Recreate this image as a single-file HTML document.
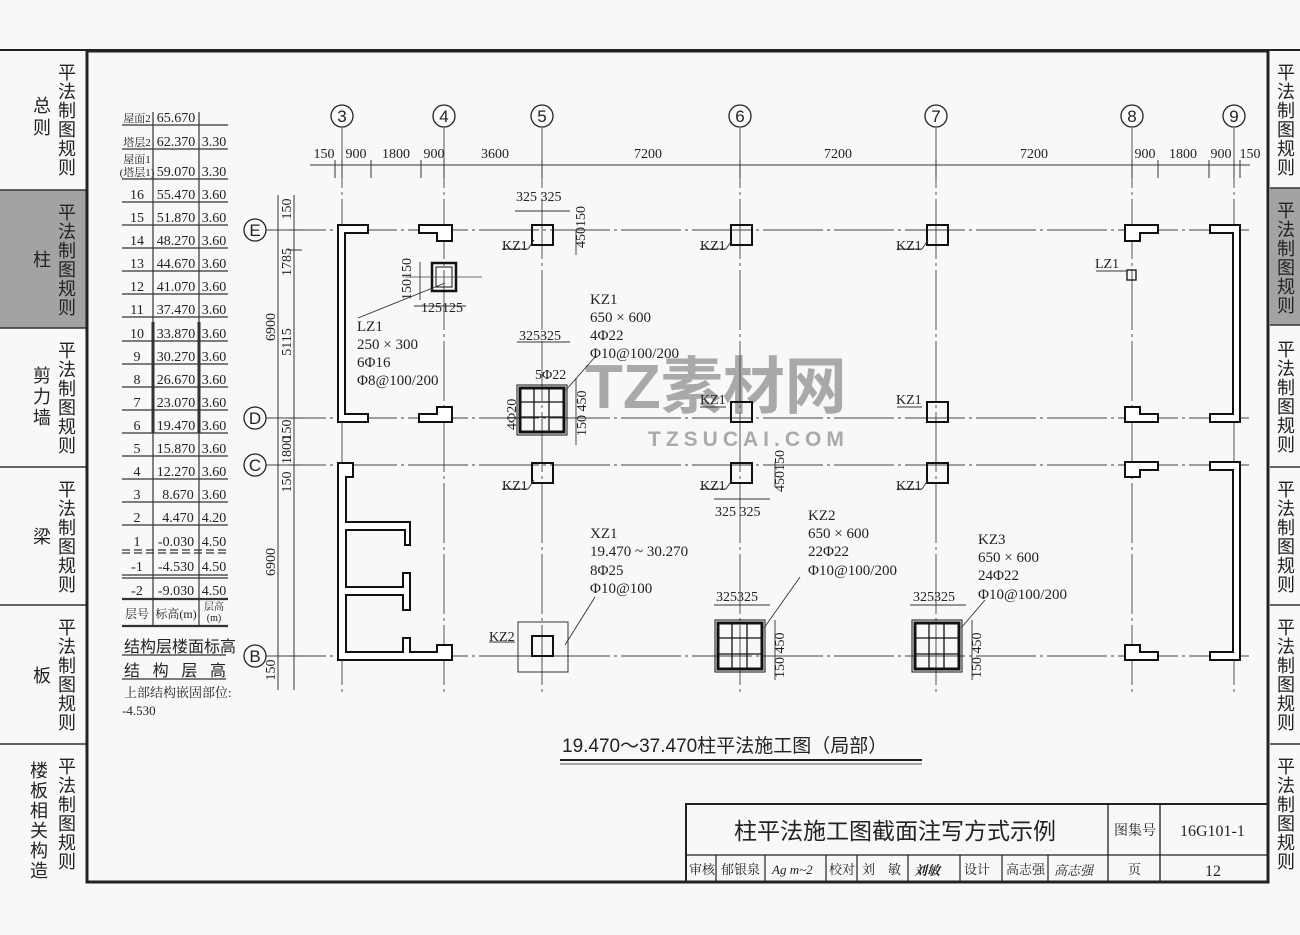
<!DOCTYPE html>
<html><head><meta charset="utf-8"><style>
html,body{margin:0;padding:0;background:#f8f8f6;}
svg{display:block}
text{font-family:"Liberation Serif","Noto Serif CJK SC",serif;fill:#222}
.s{font-family:"Liberation Sans","Noto Sans CJK SC",sans-serif}
.sb text{font-family:"Liberation Sans","Noto Sans CJK SC",sans-serif;font-size:18px}
</style></head><body>
<svg width="1300" height="935" viewBox="0 0 1300 935" xmlns="http://www.w3.org/2000/svg">
<rect width="1300" height="935" fill="#f8f8f6"/>
<!-- sidebars -->
<rect x="0" y="190" width="86" height="138" fill="#a3a3a3"/>
<rect x="1270" y="188" width="30" height="137" fill="#a3a3a3"/>
<line x1="0" y1="50" x2="1300" y2="50" stroke="#222" stroke-width="2"/>
<g stroke="#333" stroke-width="1.5">
<line x1="0" y1="190" x2="86" y2="190"/><line x1="0" y1="328" x2="86" y2="328"/><line x1="0" y1="467" x2="86" y2="467"/>
<line x1="0" y1="605" x2="86" y2="605"/><line x1="0" y1="744" x2="86" y2="744"/>
<line x1="1270" y1="188" x2="1300" y2="188"/><line x1="1270" y1="325" x2="1300" y2="325"/><line x1="1270" y1="467" x2="1300" y2="467"/>
<line x1="1270" y1="605" x2="1300" y2="605"/><line x1="1270" y1="744" x2="1300" y2="744"/>
</g>
<rect x="87" y="51" width="1181" height="831" fill="none" stroke="#222" stroke-width="3"/>
<g class="sb">
<text x="58" y="79">平</text><text x="58" y="98">法</text><text x="58" y="117">制</text><text x="58" y="136">图</text><text x="58" y="155">规</text><text x="58" y="174">则</text>
<text x="33" y="112">总</text><text x="33" y="134">则</text>
<text x="58" y="219">平</text><text x="58" y="238">法</text><text x="58" y="257">制</text><text x="58" y="276">图</text><text x="58" y="295">规</text><text x="58" y="314">则</text>
<text x="33" y="266">柱</text>
<text x="58" y="357">平</text><text x="58" y="376">法</text><text x="58" y="395">制</text><text x="58" y="414">图</text><text x="58" y="433">规</text><text x="58" y="452">则</text>
<text x="33" y="382">剪</text><text x="33" y="403">力</text><text x="33" y="424">墙</text>
<text x="58" y="496">平</text><text x="58" y="515">法</text><text x="58" y="534">制</text><text x="58" y="553">图</text><text x="58" y="572">规</text><text x="58" y="591">则</text>
<text x="33" y="543">梁</text>
<text x="58" y="634">平</text><text x="58" y="653">法</text><text x="58" y="672">制</text><text x="58" y="691">图</text><text x="58" y="710">规</text><text x="58" y="729">则</text>
<text x="33" y="682">板</text>
<text x="58" y="773">平</text><text x="58" y="792">法</text><text x="58" y="811">制</text><text x="58" y="830">图</text><text x="58" y="849">规</text><text x="58" y="868">则</text>
<text x="30" y="777">楼</text><text x="30" y="797">板</text><text x="30" y="817">相</text><text x="30" y="837">关</text><text x="30" y="857">构</text><text x="30" y="877">造</text>
<text x="1277" y="79">平</text><text x="1277" y="98">法</text><text x="1277" y="117">制</text><text x="1277" y="136">图</text><text x="1277" y="155">规</text><text x="1277" y="174">则</text>
<text x="1277" y="217">平</text><text x="1277" y="236">法</text><text x="1277" y="255">制</text><text x="1277" y="274">图</text><text x="1277" y="293">规</text><text x="1277" y="312">则</text>
<text x="1277" y="356">平</text><text x="1277" y="375">法</text><text x="1277" y="394">制</text><text x="1277" y="413">图</text><text x="1277" y="432">规</text><text x="1277" y="451">则</text>
<text x="1277" y="496">平</text><text x="1277" y="515">法</text><text x="1277" y="534">制</text><text x="1277" y="553">图</text><text x="1277" y="572">规</text><text x="1277" y="591">则</text>
<text x="1277" y="634">平</text><text x="1277" y="653">法</text><text x="1277" y="672">制</text><text x="1277" y="691">图</text><text x="1277" y="710">规</text><text x="1277" y="729">则</text>
<text x="1277" y="773">平</text><text x="1277" y="792">法</text><text x="1277" y="811">制</text><text x="1277" y="830">图</text><text x="1277" y="849">规</text><text x="1277" y="868">则</text>
</g>

<!-- watermark -->
<text x="585" y="408" class="s" font-size="62" font-weight="bold" style="fill:#a9a9a9">TZ素材网</text>
<text x="648" y="446" class="s" font-size="21" font-weight="bold" letter-spacing="5" style="fill:#aaa">TZSUCAI.COM</text>

<!-- table -->
<g stroke="#333" stroke-width="1.2">
<line x1="153" y1="112" x2="153" y2="626"/><line x1="199" y1="112" x2="199" y2="626"/>
<line x1="153" y1="322" x2="153" y2="433" stroke-width="3"/><line x1="199" y1="322" x2="199" y2="433" stroke-width="3"/>
<line x1="122" y1="125" x2="228" y2="125"/><line x1="122" y1="149" x2="228" y2="149"/>
<line x1="122" y1="179" x2="228" y2="179"/><line x1="122" y1="202" x2="228" y2="202"/>
<line x1="122" y1="225" x2="228" y2="225"/><line x1="122" y1="248" x2="228" y2="248"/>
<line x1="122" y1="271" x2="228" y2="271"/><line x1="122" y1="294" x2="228" y2="294"/>
<line x1="122" y1="317" x2="228" y2="317"/><line x1="122" y1="341" x2="228" y2="341"/>
<line x1="122" y1="364" x2="228" y2="364"/><line x1="122" y1="387" x2="228" y2="387"/>
<line x1="122" y1="410" x2="228" y2="410"/><line x1="122" y1="433" x2="228" y2="433"/>
<line x1="122" y1="456" x2="228" y2="456"/><line x1="122" y1="479" x2="228" y2="479"/>
<line x1="122" y1="502" x2="228" y2="502"/><line x1="122" y1="525" x2="228" y2="525"/>
<line x1="122" y1="550" x2="228" y2="550" stroke-dasharray="8,4"/><line x1="122" y1="553" x2="228" y2="553" stroke-dasharray="8,4"/>
<line x1="122" y1="575" x2="228" y2="575"/><line x1="122" y1="578" x2="228" y2="578"/>
<line x1="122" y1="599" x2="228" y2="599" stroke-width="2.2"/><line x1="122" y1="626" x2="228" y2="626" stroke-width="2.2"/>
<line x1="122" y1="655" x2="226" y2="655"/><line x1="122" y1="679" x2="226" y2="679"/>
</g>
<g font-size="14" text-anchor="middle">
<text x="137" y="122" font-size="11">屋面2</text><text x="176" y="122">65.670</text>
<text x="137" y="146" font-size="11">塔层2</text><text x="176" y="146">62.370</text><text x="214" y="146">3.30</text>
<text x="137" y="163" font-size="11">屋面1</text><text x="137" y="176" font-size="11">(塔层1)</text><text x="176" y="176">59.070</text><text x="214" y="176">3.30</text>
<text x="137" y="199">16</text><text x="176" y="199">55.470</text><text x="214" y="199">3.60</text>
<text x="137" y="222">15</text><text x="176" y="222">51.870</text><text x="214" y="222">3.60</text>
<text x="137" y="245">14</text><text x="176" y="245">48.270</text><text x="214" y="245">3.60</text>
<text x="137" y="268">13</text><text x="176" y="268">44.670</text><text x="214" y="268">3.60</text>
<text x="137" y="291">12</text><text x="176" y="291">41.070</text><text x="214" y="291">3.60</text>
<text x="137" y="314">11</text><text x="176" y="314">37.470</text><text x="214" y="314">3.60</text>
<text x="137" y="338">10</text><text x="176" y="338">33.870</text><text x="214" y="338">3.60</text>
<text x="137" y="361">9</text><text x="176" y="361">30.270</text><text x="214" y="361">3.60</text>
<text x="137" y="384">8</text><text x="176" y="384">26.670</text><text x="214" y="384">3.60</text>
<text x="137" y="407">7</text><text x="176" y="407">23.070</text><text x="214" y="407">3.60</text>
<text x="137" y="430">6</text><text x="176" y="430">19.470</text><text x="214" y="430">3.60</text>
<text x="137" y="453">5</text><text x="176" y="453">15.870</text><text x="214" y="453">3.60</text>
<text x="137" y="476">4</text><text x="176" y="476">12.270</text><text x="214" y="476">3.60</text>
<text x="137" y="499">3</text><text x="178" y="499">8.670</text><text x="214" y="499">3.60</text>
<text x="137" y="522">2</text><text x="178" y="522">4.470</text><text x="214" y="522">4.20</text>
<text x="137" y="546">1</text><text x="176" y="546">-0.030</text><text x="214" y="546">4.50</text>
<text x="137" y="571">-1</text><text x="176" y="571">-4.530</text><text x="214" y="571">4.50</text>
<text x="137" y="595">-2</text><text x="176" y="595">-9.030</text><text x="214" y="595">4.50</text>
<text x="137" y="618" font-size="12">层号</text><text x="176" y="618" font-size="12">标高(m)</text>
<text x="214" y="610" font-size="10">层高</text><text x="214" y="621" font-size="10">(m)</text>
</g>
<text x="124" y="652" font-size="16" class="s">结构层楼面标高</text>
<text x="124" y="676" font-size="16" class="s" textLength="102">结 构 层 高</text>
<text x="124" y="697" font-size="13">上部结构嵌固部位:</text>
<text x="122" y="715" font-size="13">-4.530</text>

<!-- axis lines -->
<g stroke="#444" stroke-width="0.9" stroke-dasharray="60,4,3,4">
<line x1="342" y1="128" x2="342" y2="692"/><line x1="444" y1="128" x2="444" y2="692"/>
<line x1="542" y1="128" x2="542" y2="692"/><line x1="740" y1="128" x2="740" y2="692"/>
<line x1="936" y1="128" x2="936" y2="692"/><line x1="1132" y1="128" x2="1132" y2="692"/>
<line x1="1234" y1="128" x2="1234" y2="692"/>
<line x1="266" y1="230" x2="1250" y2="230"/><line x1="266" y1="418" x2="1250" y2="418"/>
<line x1="266" y1="465" x2="1250" y2="465"/><line x1="266" y1="656" x2="1250" y2="656"/>
</g>
<g fill="#fafafa" stroke="#222" stroke-width="1.3">
<circle cx="342" cy="116" r="11"/><circle cx="444" cy="116" r="11"/><circle cx="542" cy="116" r="11"/>
<circle cx="740" cy="116" r="11"/><circle cx="936" cy="116" r="11"/><circle cx="1132" cy="116" r="11"/><circle cx="1234" cy="116" r="11"/>
<circle cx="255" cy="230" r="11"/><circle cx="255" cy="418" r="11"/><circle cx="255" cy="465" r="11"/><circle cx="255" cy="656" r="11"/>
</g>
<g font-size="17" text-anchor="middle">
<text x="342" y="122" class="s">3</text><text x="444" y="122" class="s">4</text><text x="542" y="122" class="s">5</text>
<text x="740" y="122" class="s">6</text><text x="936" y="122" class="s">7</text><text x="1132" y="122" class="s">8</text><text x="1234" y="122" class="s">9</text>
<text x="255" y="236" class="s">E</text><text x="255" y="424" class="s">D</text><text x="255" y="471" class="s">C</text><text x="255" y="662" class="s">B</text>
</g>
<g stroke="#333" stroke-width="1">
<line x1="310" y1="165" x2="1250" y2="165"/>
<line x1="335" y1="160" x2="335" y2="178"/><line x1="342" y1="160" x2="342" y2="178"/><line x1="371" y1="160" x2="371" y2="178"/>
<line x1="421" y1="160" x2="421" y2="178"/><line x1="444" y1="160" x2="444" y2="178"/><line x1="542" y1="160" x2="542" y2="178"/>
<line x1="740" y1="160" x2="740" y2="178"/><line x1="936" y1="160" x2="936" y2="178"/><line x1="1132" y1="160" x2="1132" y2="178"/>
<line x1="1158" y1="160" x2="1158" y2="178"/><line x1="1209" y1="160" x2="1209" y2="178"/><line x1="1234" y1="160" x2="1234" y2="178"/><line x1="1240" y1="160" x2="1240" y2="178"/>
<line x1="294" y1="195" x2="294" y2="690"/>
<line x1="288" y1="230" x2="302" y2="230"/><line x1="288" y1="250" x2="302" y2="250"/><line x1="288" y1="418" x2="302" y2="418"/><line x1="288" y1="465" x2="302" y2="465"/><line x1="288" y1="656" x2="302" y2="656"/>
<line x1="278" y1="195" x2="278" y2="690"/>
</g>
<g font-size="14" text-anchor="middle">
<text x="324" y="158">150</text><text x="356" y="158">900</text><text x="396" y="158">1800</text><text x="434" y="158">900</text>
<text x="495" y="158">3600</text><text x="648" y="158">7200</text><text x="838" y="158">7200</text><text x="1034" y="158">7200</text>
<text x="1145" y="158">900</text><text x="1183" y="158">1800</text><text x="1221" y="158">900</text><text x="1250" y="158">150</text>
</g>
<g font-size="14" text-anchor="middle">
<text transform="translate(291,209) rotate(-90)">150</text>
<text transform="translate(291,262) rotate(-90)">1785</text>
<text transform="translate(291,342) rotate(-90)">5115</text>
<text transform="translate(291,430) rotate(-90)">150</text>
<text transform="translate(291,450) rotate(-90)">1800</text>
<text transform="translate(291,482) rotate(-90)">150</text>
<text transform="translate(275,327) rotate(-90)">6900</text>
<text transform="translate(275,562) rotate(-90)">6900</text>
<text transform="translate(275,670) rotate(-90)">150</text>
</g>

<g fill="#fff" stroke="#111" stroke-width="2">
<polygon points="338,225 368,225 368,233 345,233 345,414 368,414 368,422 338,422"/>
<polygon points="419,225 452,225 452,241 437,241 437,233 419,233"/>
<polygon points="437,407 452,407 452,422 419,422 419,414 437,414"/>
<polygon points="338,463 353,463 353,477 346,477 346,522 410,522 410,545 405,545 405,530 346,530 346,587 403,587 403,573 410,573 410,610 403,610 403,595 346,595 346,652 403,652 403,638 410,638 410,652 437,652 437,645 452,645 452,660 338,660"/>
<polygon points="1125,225 1158,225 1158,233 1140,233 1140,241 1125,241"/>
<polygon points="1125,407 1140,407 1140,414 1158,414 1158,422 1125,422"/>
<polygon points="1125,462 1158,462 1158,470 1140,470 1140,477 1125,477"/>
<polygon points="1125,645 1140,645 1140,652 1158,652 1158,660 1125,660"/>
<polygon points="1210,225 1240,225 1240,422 1210,422 1210,414 1233,414 1233,233 1210,233"/>
<polygon points="1210,462 1240,462 1240,660 1210,660 1210,652 1233,652 1233,470 1210,470"/>
</g>
<g fill="none" stroke="#111" stroke-width="2">
<rect x="532" y="225" width="21" height="20"/><rect x="731" y="225" width="21" height="20"/><rect x="927" y="225" width="21" height="20"/>
<rect x="731" y="402" width="21" height="20"/><rect x="927" y="402" width="21" height="20"/>
<rect x="532" y="463" width="21" height="20"/><rect x="731" y="463" width="21" height="20"/><rect x="927" y="463" width="21" height="20"/>
<rect x="532" y="636" width="21" height="20"/>
<rect x="1127" y="270" width="9" height="10" stroke-width="1.3"/>
</g>
<rect x="518" y="622" width="50" height="50" fill="none" stroke="#333" stroke-width="1"/>
<rect x="432" y="263" width="24" height="28" fill="none" stroke="#111" stroke-width="2.5"/>
<rect x="436" y="267" width="16" height="20" fill="none" stroke="#111" stroke-width="1"/>
<line x1="405" y1="277" x2="482" y2="277" stroke="#444" stroke-width="0.8"/>
<g fill="none" stroke="#111">
<rect x="517" y="385" width="50" height="50" stroke-width="1"/>
<rect x="520" y="388" width="44" height="44" stroke-width="3"/>
<path d="M534 388V432M549 388V432M520 402H564M520 417H564" stroke-width="1.3"/>
<rect x="715" y="620" width="50" height="52" stroke-width="1"/>
<rect x="718" y="623" width="44" height="46" stroke-width="3"/>
<path d="M732 623V669M747 623V669M718 638H762M718 654H762" stroke-width="1.3"/>
<rect x="912" y="620" width="50" height="52" stroke-width="1"/>
<rect x="915" y="623" width="44" height="46" stroke-width="3"/>
<path d="M929 623V669M944 623V669M915 638H959M915 654H959" stroke-width="1.3"/>
</g>
<g stroke="#333" stroke-width="0.9" fill="none">
<path d="M358 318L445 283"/><path d="M566 390L595 357"/><path d="M764 628L800 577"/><path d="M961 628L985 600"/>
<path d="M565 645L595 597"/><path d="M502 249H528L534 240"/><path d="M700 249H726L732 240"/><path d="M897 249H922L928 240"/>
<path d="M700 407H726"/><path d="M897 407H922"/><path d="M502 489H528L534 480"/><path d="M700 489H726L732 480"/><path d="M897 489H922L928 480"/>
<path d="M1096 271H1127"/><path d="M489 642H515"/>
<path d="M515 211H570M517 342H570M714 605H770M910 605H966M714 499H770M414 306H466"/>
<path d="M576 230V255M576 378V445M775 620V680M972 620V680M775 462V487M420 262V300"/>
</g>
<g font-size="14">
<text x="516" y="201">325 325</text>
<text transform="translate(585,248) rotate(-90)">450150</text>
<text x="502" y="250">KZ1</text><text x="700" y="250">KZ1</text><text x="896" y="250">KZ1</text>
<text x="700" y="404">KZ1</text><text x="896" y="404">KZ1</text>
<text x="502" y="490">KZ1</text><text x="700" y="490">KZ1</text><text x="896" y="490">KZ1</text>
<text x="1095" y="268">LZ1</text>
<text x="489" y="641">KZ2</text>
<text transform="translate(411,300) rotate(-90)">150150</text>
<text x="421" y="312">125125</text>
<text x="357" y="331" font-size="15">LZ1</text>
<text x="357" y="349" font-size="15">250 × 300</text>
<text x="357" y="367" font-size="15">6Φ16</text>
<text x="357" y="385" font-size="15">Φ8@100/200</text>
<text x="590" y="304" font-size="15">KZ1</text>
<text x="590" y="322" font-size="15">650 × 600</text>
<text x="590" y="340" font-size="15">4Φ22</text>
<text x="590" y="358" font-size="15">Φ10@100/200</text>
<text x="519" y="340">325325</text>
<text x="535" y="379">5Φ22</text>
<text transform="translate(516,430) rotate(-90)">4Φ20</text>
<text transform="translate(586,436) rotate(-90)">150 450</text>
<text x="715" y="516">325 325</text>
<text transform="translate(784,492) rotate(-90)">450150</text>
<text x="590" y="538" font-size="15">XZ1</text>
<text x="590" y="556" font-size="15">19.470 ~ 30.270</text>
<text x="590" y="575" font-size="15">8Φ25</text>
<text x="590" y="593" font-size="15">Φ10@100</text>
<text x="808" y="520" font-size="15">KZ2</text>
<text x="808" y="538" font-size="15">650 × 600</text>
<text x="808" y="556" font-size="15">22Φ22</text>
<text x="808" y="575" font-size="15">Φ10@100/200</text>
<text x="978" y="544" font-size="15">KZ3</text>
<text x="978" y="562" font-size="15">650 × 600</text>
<text x="978" y="580" font-size="15">24Φ22</text>
<text x="978" y="599" font-size="15">Φ10@100/200</text>
<text x="716" y="601">325325</text><text x="913" y="601">325325</text>
<text transform="translate(784,678) rotate(-90)">150 450</text>
<text transform="translate(981,678) rotate(-90)">150 450</text>
</g>
<text x="562" y="752" font-size="19" class="s">19.470～37.470柱平法施工图（局部）</text>
<line x1="560" y1="760" x2="922" y2="760" stroke="#222" stroke-width="2"/>
<line x1="560" y1="764" x2="922" y2="764" stroke="#222" stroke-width="0.8"/>
<g stroke="#222" fill="none">
<rect x="686" y="804" width="582" height="78" stroke-width="2"/>
<line x1="686" y1="855" x2="1268" y2="855" stroke-width="1.3"/>
<line x1="1108" y1="804" x2="1108" y2="882" stroke-width="1.3"/><line x1="1160" y1="804" x2="1160" y2="882" stroke-width="1.3"/>
<path d="M716 855V882M765 855V882M826 855V882M857 855V882M908 855V882M960 855V882M1002 855V882M1048 855V882" stroke-width="1.2"/>
</g>
<text x="734" y="839" font-size="23" class="s">柱平法施工图截面注写方式示例</text>
<text x="1114" y="835" font-size="14">图集号</text>
<text x="1180" y="836" font-size="16">16G101-1</text>
<g font-size="13">
<text x="689" y="874">审核</text><text x="721" y="874">郁银泉</text><text x="829" y="874">校对</text><text x="862" y="874">刘　敏</text>
<text x="964" y="874">设计</text><text x="1006" y="874">高志强</text><text x="1128" y="874">页</text><text x="1205" y="876" font-size="16">12</text>
<text x="772" y="874" font-style="italic">Ag m~2</text><text x="914" y="875" font-style="italic" font-weight="bold">刘敏</text><text x="1054" y="875" font-style="italic">高志强</text>
</g>
</svg>
</body></html>
